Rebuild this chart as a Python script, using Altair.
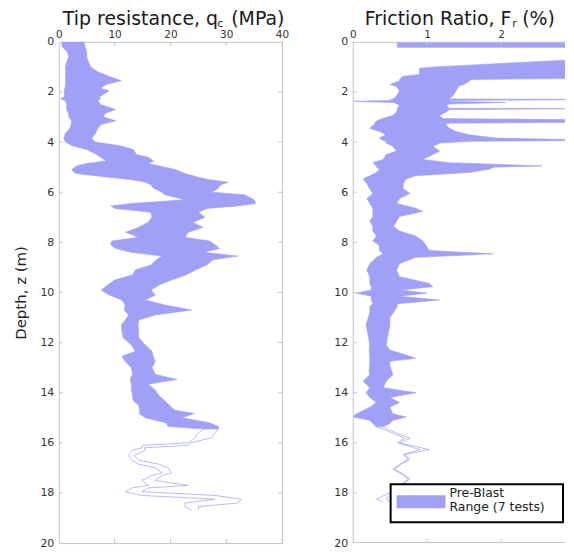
import altair as alt
import pandas as pd

# ---------------- data ----------------
# Tip resistance q_c (MPa): envelope of 7 pre-blast CPT soundings
QC_DEPTH = [0.0, 0.2, 0.4, 0.6, 0.8, 1.0, 1.2, 1.4, 1.55, 1.7, 1.85, 1.95, 2.1, 2.2, 2.27, 2.35,
            2.5, 2.7, 2.85, 3.0, 3.15, 3.3, 3.45, 3.65, 3.85, 4.0, 4.15, 4.3, 4.5, 4.6, 4.75,
            4.85, 4.95, 5.1, 5.25, 5.4, 5.5, 5.6, 5.7, 5.85, 6.0, 6.1, 6.3, 6.45, 6.55, 6.65,
            6.8, 7.0, 7.2, 7.4, 7.6, 7.8, 7.95, 8.1, 8.25, 8.4, 8.55, 8.7, 8.9, 9.1, 9.3, 9.5,
            9.7, 9.9, 10.1, 10.3, 10.5, 10.7, 10.9, 11.1, 11.3, 11.55, 11.8, 12.1, 12.35, 12.55,
            12.75, 13.0, 13.27, 13.47, 13.66, 13.9, 14.1, 14.3, 14.5, 14.7, 14.83, 15.0, 15.2,
            15.35, 15.45]
QC_LO = [0.5, 0.6, 1.5, 1.8, 1.4, 1.2, 1.2, 1.2, 1.2, 1.2, 1.1, 1.0, 1.0, 1.0, 0.3, 1.2,
         1.4, 1.4, 1.7, 1.8, 2.3, 2.2, 2.0, 1.2, 0.9, 1.2, 2.5, 5.0, 6.8, 7.5, 8.5,
         5.0, 3.2, 2.3, 3.0, 8.9, 13.0, 15.5, 16.5, 17.0, 18.5, 19.0, 22.6, 13.0, 9.3, 10.1,
         16.5, 16.7, 16.0, 14.3, 12.0, 14.3, 9.5, 9.3, 10.2, 13.0, 18.5, 17.5, 16.5, 13.7, 13.2, 10.0,
         8.8, 7.6, 9.0, 11.3, 11.9, 11.7, 12.5, 11.9, 11.2, 11.3, 11.5, 13.0, 13.7, 11.3,
         11.9, 13.0, 13.2, 12.8, 13.0, 13.0, 13.2, 13.3, 14.3, 14.5, 14.4, 15.5, 19.2,
         19.6, 26.0]
QC_HI = [4.5, 4.7, 5.0, 5.0, 5.3, 5.7, 7.0, 9.3, 11.2, 8.5, 7.5, 9.0, 8.0, 7.2, 7.5, 7.0,
         7.5, 10.2, 8.3, 8.0, 10.2, 7.5, 7.0, 6.6, 5.9, 6.5, 11.0, 13.4, 13.9, 16.0, 17.0,
         16.0, 18.0, 21.0, 22.6, 25.0, 27.0, 30.4, 29.0, 28.5, 27.4, 33.3, 35.0, 35.3, 32.0, 26.5,
         25.0, 26.2, 24.0, 25.8, 23.2, 22.6, 27.0, 28.0, 28.8, 26.0, 32.1, 27.6, 26.5, 24.5, 22.8, 20.2,
         18.0, 16.5, 17.3, 15.5, 19.0, 23.8, 17.3, 14.3, 14.2, 14.3, 14.3, 15.5, 16.7, 16.9,
         17.3, 16.7, 17.3, 21.2, 16.0, 17.3, 17.9, 18.9, 19.8, 20.8, 24.3, 22.0, 27.0,
         28.6, 28.6]
# deeper part, reached by few soundings (drawn as thin outline)
QC_DEEP_DEPTH = [15.45, 15.6, 15.8, 16.0, 16.1, 16.2, 16.3, 16.5, 16.7, 16.85, 17.0, 17.2, 17.3,
                 17.5, 17.7, 17.8, 17.95, 18.1, 18.25, 18.4, 18.55, 18.7]
QC_DEEP_LO = [26.0, 25.0, 24.4, 23.2, 15.0, 14.9, 13.1, 12.5, 13.1, 14.3, 17.3, 18.5, 16.7,
              14.9, 16.1, 13.1, 11.9, 14.9, 28.0, 22.6, 22.6, 23.8]
QC_DEEP_HI = [28.6, 28.0, 27.4, 23.6, 23.2, 15.3, 15.5, 13.5, 14.3, 17.9, 19.6, 20.2, 18.5,
              17.3, 23.2, 16.0, 14.9, 28.0, 32.7, 32.1, 25.0, 25.0]

# Friction ratio F_r (%)
FR_TOP_DEPTH = [0.0, 0.22]
FR_TOP_LO = [0.6, 0.6]
FR_TOP_HI = [3.5, 3.5]
FR_DEPTH = [0.72, 0.8, 0.9, 1.0, 1.05, 1.3, 1.38, 1.45, 1.5, 1.56, 1.7, 1.76, 1.95, 2.15, 2.28,
            2.3, 2.34, 2.37, 2.42, 2.48, 2.54, 2.65, 2.67, 2.7, 2.8, 2.93, 3.06, 3.12, 3.2, 3.25,
            3.32, 3.45, 3.58, 3.71, 3.84, 3.93, 3.97, 4.04, 4.17, 4.36, 4.5, 4.69, 4.82, 4.95,
            5.0, 5.08, 5.21, 5.34, 5.47, 5.66, 5.86, 6.05, 6.25, 6.45, 6.64, 6.77, 6.97, 7.16,
            7.36, 7.55, 7.75, 7.94, 8.14, 8.33, 8.46, 8.6, 8.85, 9.1, 9.37, 9.64, 9.77, 9.9,
            10.03, 10.15, 10.3, 10.45, 10.55, 10.8, 11.0, 11.3, 11.6, 12.1, 12.3, 12.5, 12.63,
            12.75, 12.9, 13.1, 13.28, 13.54, 13.8, 14.0, 14.19, 14.39, 14.58, 14.84, 14.97,
            15.1, 15.23, 15.36]
FR_LO = [2.95, 2.4, 1.75, 1.1, 0.9, 0.9, 0.67, 0.65, 0.63, 0.63, 0.5, 0.58, 0.63, 0.59, 0.55,
         0.5, 0.55, 0.0, 0.55, 0.6, 0.63, 0.6, 0.6, 0.6, 0.59, 0.54, 0.4, 0.35, 0.3, 0.3,
         0.28, 0.23, 0.36, 0.45, 0.36, 0.4, 0.45, 0.45, 0.54, 0.59, 0.45, 0.41, 0.27, 0.32,
         0.32, 0.36, 0.32, 0.23, 0.14, 0.19, 0.23, 0.27, 0.19, 0.23, 0.27, 0.27, 0.27, 0.23,
         0.27, 0.27, 0.32, 0.27, 0.36, 0.36, 0.41, 0.32, 0.23, 0.19, 0.23, 0.23, 0.25, 0.25,
         0.05, 0.25, 0.25, 0.27, 0.23, 0.23, 0.21, 0.18, 0.2, 0.23, 0.22, 0.23, 0.23,
         0.23, 0.23, 0.22, 0.23, 0.14, 0.23, 0.18, 0.23, 0.32, 0.23, 0.05, 0.0,
         0.23, 0.27, 0.32]
FR_HI = [3.5, 3.5, 3.5, 3.5, 3.5, 3.5, 3.5, 3.5, 1.6, 1.57, 1.5, 1.43, 1.39, 1.35, 1.3,
         3.5, 1.3, 1.3, 2.06, 1.3, 1.26, 1.3, 3.0, 1.3, 1.26, 1.17, 1.21, 3.5, 3.5, 1.26,
         1.26, 1.3, 1.39, 1.57, 1.93, 3.5, 1.6, 1.17, 1.08, 1.17, 1.08, 0.94, 1.3, 2.55,
         1.9, 1.84, 1.57, 0.85, 0.72, 0.68, 0.68, 0.77, 0.63, 0.59, 0.85, 0.94, 0.63, 0.59,
         0.55, 0.63, 0.85, 0.94, 0.99, 1.03, 1.89, 0.85, 0.63, 0.59, 0.63, 1.03, 1.08, 0.65,
         1.0, 0.62, 1.17, 0.6, 0.6, 0.55, 0.5, 0.5, 0.48, 0.45, 0.5, 0.72, 0.85,
         0.5, 0.5, 0.52, 0.54, 0.45, 0.41, 0.85, 0.5, 0.63, 0.5, 0.54, 0.72,
         0.54, 0.5, 0.41]
FR_DEEP_DEPTH = [15.36, 15.5, 15.82, 16.0, 16.27, 16.47, 16.66, 16.86, 17.05, 17.25, 17.45,
                 17.64, 17.8, 18.0, 18.24, 18.35]
FR_DEEP_LO = [0.32, 0.45, 0.7, 0.6, 0.9, 0.68, 0.75, 0.63, 0.54, 0.66, 0.75, 0.66, 0.6, 0.5,
              0.32, 0.4]
FR_DEEP_HI = [0.41, 0.5, 0.77, 0.63, 1.03, 0.7, 0.77, 0.65, 0.56, 0.68, 0.77, 0.68, 0.62, 0.52,
              0.45, 0.5]

DEPTH_TICKS = [0, 2, 4, 6, 8, 10, 12, 14, 16, 18, 20]
QC_TICKS = [0, 10, 20, 30, 40]
FR_TICKS = [0, 1, 2]
LEGEND_LABELS = ["Pre-Blast", "Range (7 tests)"]

# ---------------- styling ----------------
FILL = "#a0a0f6"
EDGE = "#9c9cf2"
FRAME = "#c4c4c4"
FONT = "DejaVu Sans"
W1, W2, H = 224, 213, 503


def band_frames(depths_list, lo_list, hi_list):
    rows = []
    for seg, (d, lo, hi) in enumerate(zip(depths_list, lo_list, hi_list)):
        for z, a, b in zip(d, lo, hi):
            rows.append({"z": z, "lo": a, "hi": b, "seg": seg})
    return pd.DataFrame(rows)


def outline_frame(d, lo, hi):
    rows = [{"z": z, "v": a, "side": "lo"} for z, a in zip(d, lo)]
    rows += [{"z": z, "v": b, "side": "hi"} for z, b in zip(d, hi)]
    return pd.DataFrame(rows)


ONE = pd.DataFrame({"k": [0]})


def panel(band_df, deep_df, xdomain, xticks, width, ytitle, title_parts, right_open):
    yscale = alt.Scale(domain=[0, 20], reverse=True, nice=False, zero=False)
    xscale = alt.Scale(domain=xdomain, nice=False, zero=False)

    def yaxis():
        return alt.Axis(values=DEPTH_TICKS, title=ytitle, labelPadding=5, titlePadding=11,
                        titleFont=FONT, titleFontSize=15, titleFontWeight="normal",
                        titleColor="#222222")

    def xaxis():
        return alt.Axis(orient="top", values=xticks, title=None, labelPadding=2,
                        labelFlush=False, labelFontSize=10.5)

    area = alt.Chart(band_df).mark_area(orient="horizontal", color=FILL, stroke=FILL,
                                        strokeWidth=0.6, clip=True, opacity=1).encode(
        y=alt.Y("z:Q", scale=yscale, axis=yaxis()),
        x=alt.X("lo:Q", scale=xscale, axis=xaxis()),
        x2="hi:Q",
        detail="seg:N",
    )
    deep = alt.Chart(deep_df).mark_line(color=EDGE, strokeWidth=0.7, clip=True).encode(
        y=alt.Y("z:Q", scale=yscale, axis=yaxis()),
        x=alt.X("v:Q", scale=xscale, axis=xaxis()),
        detail="side:N",
        order="z:Q",
    )
    yt = pd.DataFrame({"z": DEPTH_TICKS[1:-1]})
    xt = pd.DataFrame({"lo": xticks[1:]})
    rules = []
    sides = [(0, 4)] if right_open else [(0, 4), (width - 4, width)]
    for x1, x2 in sides:
        rules.append(alt.Chart(yt).mark_rule(color=FRAME, strokeWidth=1).encode(
            y=alt.Y("z:Q", scale=yscale, axis=yaxis()), x=alt.value(x1), x2=alt.value(x2)))
    for y1, y2 in [(0, 4), (H - 4, H)]:
        rules.append(alt.Chart(xt).mark_rule(color=FRAME, strokeWidth=1).encode(
            x=alt.X("lo:Q", scale=xscale, axis=xaxis()), y=alt.value(y1), y2=alt.value(y2)))
    if right_open:
        # frame on three sides: the panel runs off the right edge of the picture
        rules.append(alt.Chart(ONE).mark_rule(color=FRAME, strokeWidth=1).encode(
            x=alt.value(0.5), y=alt.value(0), y2=alt.value(H)))
        rules.append(alt.Chart(ONE).mark_rule(color=FRAME, strokeWidth=1).encode(
            x=alt.value(0), x2=alt.value(width), y=alt.value(0.5)))
        rules.append(alt.Chart(ONE).mark_rule(color=FRAME, strokeWidth=1).encode(
            x=alt.value(0), x2=alt.value(width), y=alt.value(H - 0.5)))

    layers = [area, deep] + rules
    for text, x, y, size in title_parts:
        layers.append(alt.Chart(ONE).mark_text(align="left", baseline="alphabetic", font=FONT,
                                               fontSize=size, color="#1a1a1a").encode(
            x=alt.value(x), y=alt.value(y), text=alt.value(text)))
    return layers


left_layers = panel(
    band_frames([QC_DEPTH], [QC_LO], [QC_HI]),
    outline_frame(QC_DEEP_DEPTH, QC_DEEP_LO, QC_DEEP_HI),
    [0, 40], QC_TICKS, W1, "Depth, z (m)",
    [("Tip resistance, q", 4, -17, 19), ("c", 159, -15, 11), ("(MPa)", 173, -17, 19)],
    False,
)
left = alt.layer(*left_layers).properties(width=W1, height=H)

right_layers = panel(
    band_frames([FR_TOP_DEPTH, FR_DEPTH], [FR_TOP_LO, FR_LO], [FR_TOP_HI, FR_HI]),
    outline_frame(FR_DEEP_DEPTH, FR_DEEP_LO, FR_DEEP_HI),
    [0, 2.86], FR_TICKS, W2, None,
    [("Friction Ratio, F", 12, -17, 19), ("r", 160, -15, 11), ("(%)", 170, -17, 19)],
    True,
)
# legend box
right_layers.append(alt.Chart(ONE).mark_rect(fill="white", stroke="black", strokeWidth=2).encode(
    x=alt.value(38), x2=alt.value(211), y=alt.value(444), y2=alt.value(482)))
right_layers.append(alt.Chart(ONE).mark_rect(fill=FILL).encode(
    x=alt.value(44), x2=alt.value(93), y=alt.value(455), y2=alt.value(468)))
for i, lab in enumerate(LEGEND_LABELS):
    right_layers.append(alt.Chart(ONE).mark_text(align="left", baseline="alphabetic", font=FONT,
                                                 fontSize=12.5, color="#222222").encode(
        x=alt.value(97), y=alt.value(457 + 14 * i), text=alt.value(lab)))
right = alt.layer(*right_layers).properties(
    width=W2, height=H, view=alt.ViewBackground(stroke="transparent"))

chart = alt.hconcat(left, right, spacing=43).properties(
    padding={"left": 5, "top": 0, "right": 0, "bottom": 0}
).configure_view(stroke=FRAME, strokeWidth=1).configure_axis(
    labelFont=FONT, labelFontSize=11, labelColor="#333333", domain=False, ticks=False, grid=False
)

chart.save("out.html", embed_options={"renderer": "svg", "actions": False})
